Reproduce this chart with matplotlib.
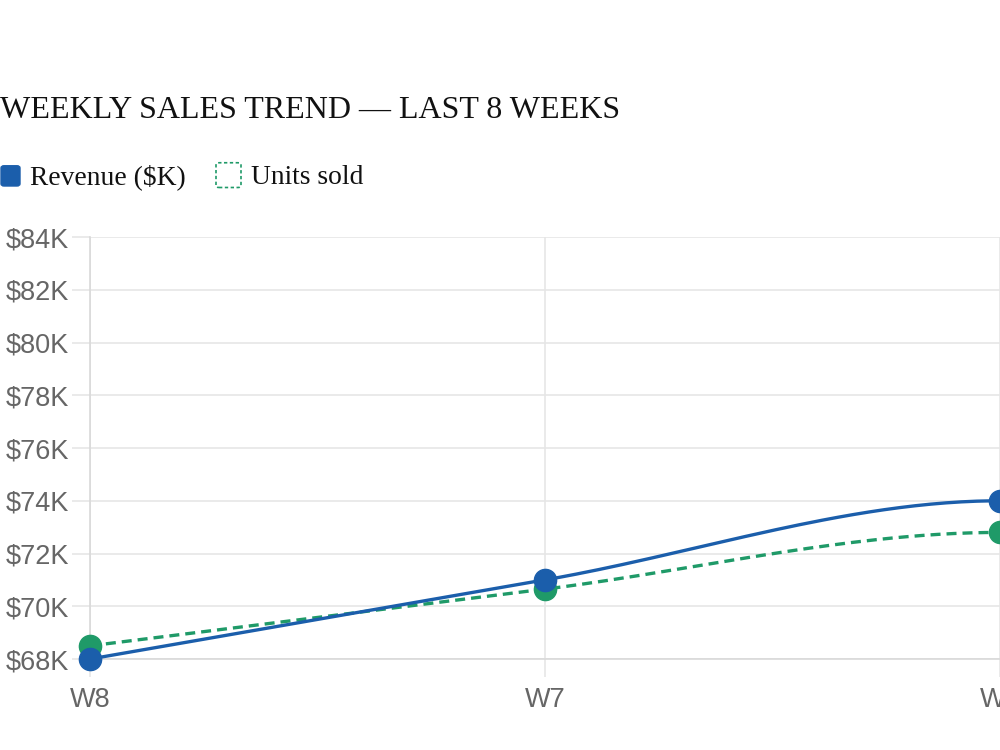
import numpy as np
import matplotlib
matplotlib.use('Agg')
from matplotlib import pyplot as plt
from matplotlib.patches import FancyBboxPatch

weeks = ['W8', 'W7', 'W6', 'W5']
revenue = [68.0, 71.0, 74.0, 72.6]   # $K
units = [68.5, 70.65, 72.8, 72.1]    # drawn on the revenue scale

BLUE = '#1b5eab'
GREEN = '#1f9a68'


def monotone(y, n=60):
    # monotone cubic (Fritsch-Carlson), like chart.js cubicInterpolationMode
    y = np.asarray(y, float)
    d = np.diff(y)
    m = np.zeros_like(y)
    m[0], m[-1] = d[0], d[-1]
    for k in range(1, len(y) - 1):
        m[k] = 0 if d[k - 1] * d[k] <= 0 else (d[k - 1] + d[k]) / 2
    for k in range(len(d)):
        if d[k] == 0:
            m[k] = m[k + 1] = 0
            continue
        a, b = m[k] / d[k], m[k + 1] / d[k]
        s = a * a + b * b
        if s > 9:
            t = 3 / np.sqrt(s)
            m[k], m[k + 1] = t * a * d[k], t * b * d[k]
    xs, ys = [], []
    for k in range(len(d)):
        t = np.linspace(0, 1, n)
        h00 = 2 * t**3 - 3 * t**2 + 1
        h10 = t**3 - 2 * t**2 + t
        h01 = -2 * t**3 + 3 * t**2
        h11 = t**3 - t**2
        xs.append(k + t)
        ys.append(h00 * y[k] + h10 * m[k] + h01 * y[k + 1] + h11 * m[k + 1])
    return np.concatenate(xs), np.concatenate(ys)


fig = plt.figure(figsize=(10, 7.5), dpi=100)
ax = fig.add_axes([0.09, 0.1213, 0.91, 0.5627])

x = np.arange(len(weeks))
gx, gy = monotone(units)
ax.plot(gx, gy, color=GREEN, lw=2.4, ls=(0, (3, 1.8)), zorder=3)
ax.plot(x, units, 'o', color=GREEN, ms=16, clip_on=False, zorder=4)
bx, by = monotone(revenue)
ax.plot(bx, by, color=BLUE, lw=2.4, zorder=5)
ax.plot(x, revenue, 'o', color=BLUE, ms=16, clip_on=False, zorder=6)

ax.set_xticks(x)
ax.set_xticklabels(weeks)
ax.set_yticks(np.arange(68, 85, 2))
ax.set_yticklabels(['${}K'.format(v) for v in range(68, 85, 2)])
ax.set_xlim(0, 2)
ax.set_ylim(68, 84)
ax.grid(color='#e6e6e6', lw=1.2)
ax.set_axisbelow(True)
for s in ['top', 'right']:
    ax.spines[s].set_visible(False)
for s in ['left', 'bottom']:
    ax.spines[s].set_color('#d9d9d9')
    ax.spines[s].set_linewidth(1.2)
ax.tick_params(length=13, width=1.2, color='#e6e6e6', labelcolor='#666666',
               labelsize=19.5, pad=2)
ax.tick_params(axis='x', pad=7)
for lab in ax.get_xticklabels() + ax.get_yticklabels():
    lab.set_family('Liberation Sans')

fig.text(0.0, 0.843, 'WEEKLY SALES TREND \u2014 LAST 8 WEEKS',
         family='Liberation Serif', fontsize=23, color='#111111',
         ha='left', va='baseline')

# legend
fig.patches.append(FancyBboxPatch((0.001, 0.752), 0.019, 0.027,
                                  boxstyle='round,pad=0,rounding_size=0.003',
                                  transform=fig.transFigure, fc=BLUE, ec=BLUE))
fig.text(0.030, 0.755, 'Revenue ($K)', family='Liberation Serif',
         fontsize=19.8, color='#111111', ha='left', va='baseline')
fig.patches.append(FancyBboxPatch((0.216, 0.750), 0.025, 0.033,
                                  boxstyle='round,pad=0,rounding_size=0.003',
                                  transform=fig.transFigure, fc='white',
                                  ec=GREEN, lw=1.2, ls=(0, (2, 1.5))))
fig.text(0.251, 0.755, 'Units sold', family='Liberation Serif',
         fontsize=19.8, color='#111111', ha='left', va='baseline')

fig.savefig('out.png')
plt.close(fig)
